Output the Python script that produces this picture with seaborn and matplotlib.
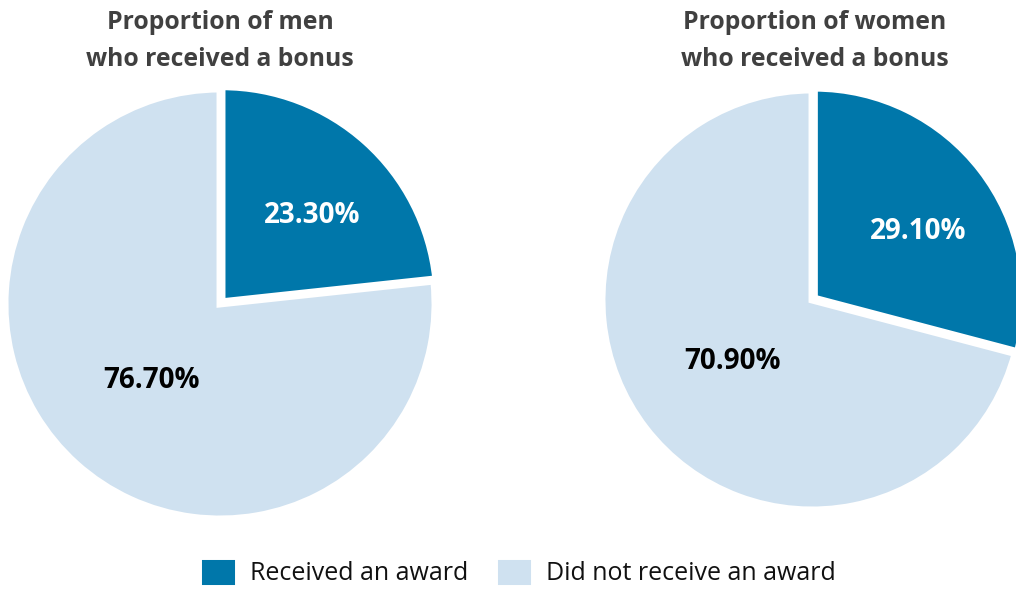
import matplotlib.pyplot as plt
import seaborn as sns

# values for the two pies (percent)
categories = ['Received an award', 'Did not receive an award']
men_values = [23.3, 76.7]
women_values = [29.1, 70.9]
titles = ['Proportion of men\nwho received a bonus', 'Proportion of women\nwho received a bonus']

# Set seaborn style
sns.set_theme(style="white")
plt.rcParams['font.family'] = ['Open Sans', 'DejaVu Sans']

colors = ['#0077aa', '#cfe1f0']

fig = plt.figure(figsize=(10.16, 5.89), dpi=100)
ax = fig.add_axes([0, 0, 1, 1])

def draw_pie(values, center, radius, explode):
    wedges, texts, autotexts = ax.pie(
        values, colors=colors, startangle=90, counterclock=False,
        center=center, radius=radius, explode=[explode, 0],
        autopct='%.2f%%', pctdistance=0.6,
        wedgeprops=dict(edgecolor='white', linewidth=5),
        textprops=dict(fontsize=20, fontweight='bold'))
    autotexts[0].set_color('white')
    autotexts[1].set_color('black')
    # small label sits a touch lower, big-slice label a bit toward the middle
    x, y = autotexts[0].get_position()
    autotexts[0].set_position((x + 4, y - 10))
    x, y = autotexts[1].get_position()
    autotexts[1].set_position((center[0] + 0.8 * (x - center[0]),
                               center[1] + 0.8 * (y - center[1])))
    return wedges

wedges = draw_pie(men_values, (220, 285), 215, 3)
draw_pie(women_values, (812, 289), 210, 3)

ax.set_xlim(0, 1016)
ax.set_ylim(0, 589)
ax.set_aspect('equal')
ax.axis('off')

for x, t in zip([220, 815], titles):
    fig.text(x / 1016, 1 - 41 / 589, t, ha='center', va='center',
             fontsize=17.8, fontweight='bold', color='#404040', linespacing=1.6)

fig.legend(wedges, categories, loc='center', bbox_to_anchor=(517 / 1016, 1 - 572 / 589),
           ncol=2, frameon=False, fontsize=18, handlelength=1.6, handleheight=1.6,
           columnspacing=1.0, handletextpad=0.5, labelcolor='#111111')

fig.savefig('out.png', dpi=100)
